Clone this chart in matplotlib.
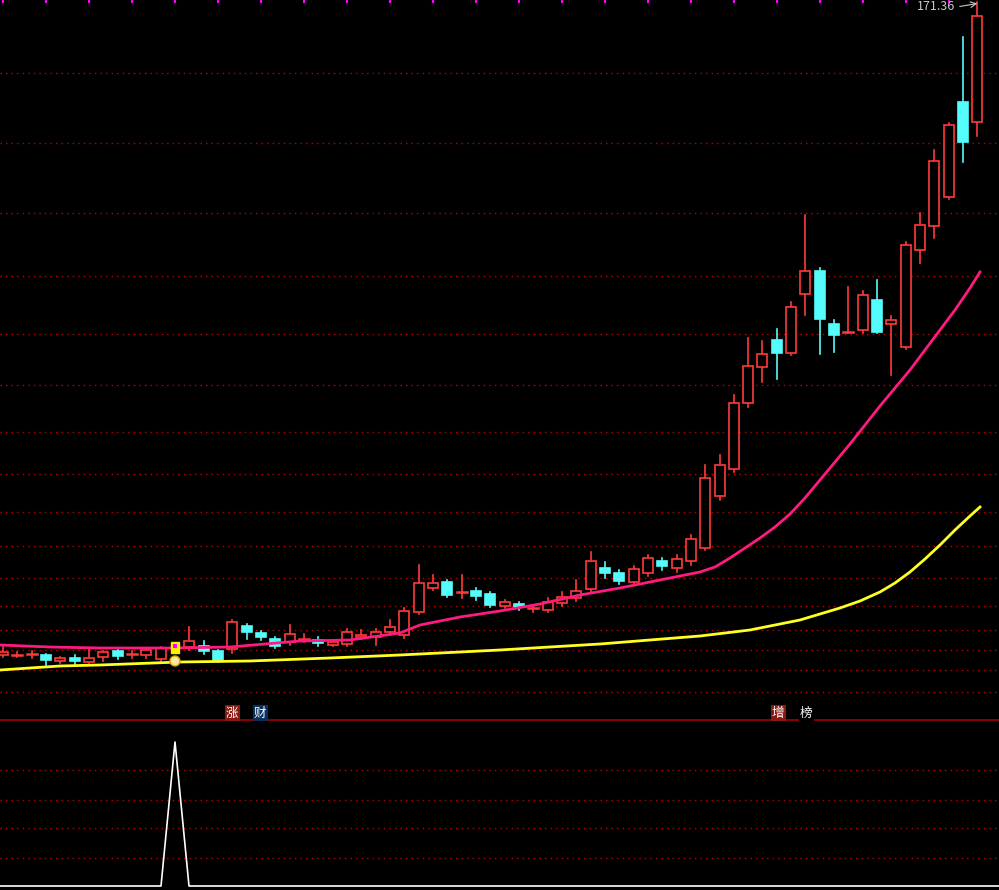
import matplotlib
matplotlib.use("Agg")
import matplotlib.pyplot as plt
from matplotlib.patches import Rectangle, Circle

plt.rcParams['font.family'] = ['Noto Sans CJK SC', 'DejaVu Sans']

# candle data as chart levels (screen scale, larger = lower price)
opens = [655, 655, 654, 655, 661, 658, 662, 657, 651, 654, 655, 659, 653, 647, 646, 651, 649, 626, 633, 639,
         642, 639, 640, 645, 644, 637, 637, 632, 635, 612, 588, 582, 592, 591, 594, 606, 604, 608, 610, 603,
         598, 589, 568, 573, 582, 573, 561, 568, 561, 548, 496, 469, 403, 367, 340, 353, 294, 271, 324, 332,
         330, 300, 324, 347, 250, 226, 197, 102, 122]
closes = [652, 655, 654, 660, 658, 661, 658, 652, 656, 654, 650, 648, 642, 641, 651, 660, 622, 632, 637, 646,
          634, 639, 643, 642, 632, 635, 632, 627, 611, 583, 583, 595, 592, 596, 605, 602, 607, 608, 602, 597,
          591, 561, 573, 581, 569, 558, 566, 559, 539, 478, 465, 403, 366, 354, 353, 307, 271, 319, 335, 332,
          295, 332, 320, 245, 225, 161, 125, 142, 16]
highs = [647, 652, 651, 654, 657, 655, 648, 651, 649, 651, 648, 647, 642, 627, 641, 650, 620, 624, 631, 637,
         625, 634, 637, 641, 629, 630, 629, 620, 608, 565, 575, 580, 575, 588, 592, 600, 602, 606, 598, 592,
         580, 552, 562, 570, 566, 555, 558, 555, 535, 465, 455, 395, 338, 341, 329, 302, 215, 268, 320, 287,
         291, 280, 316, 242, 213, 150, 123, 37, 2]
lows = [657, 657, 658, 665, 663, 665, 663, 661, 659, 658, 658, 662, 655, 650, 654, 662, 653, 639, 640, 648,
        645, 642, 646, 646, 646, 639, 645, 635, 638, 614, 590, 597, 598, 600, 607, 608, 610, 612, 612, 606,
        601, 592, 578, 584, 585, 576, 570, 572, 565, 550, 500, 472, 407, 382, 379, 355, 315, 354, 352, 333,
        333, 333, 375, 349, 263, 238, 199, 162, 136]
signal_bar = 12

ma_fast_x = [0, 50, 100, 175, 230, 300, 350, 400, 420, 460, 500, 540, 580, 620, 660, 700, 715, 730, 745, 760,
             775, 790, 805, 820, 835, 850, 865, 880, 895, 910, 925, 940, 955, 970, 980]
ma_fast = [645, 647, 648, 648, 647, 641, 640, 633, 625, 617, 611, 604, 595, 588, 580, 572, 567, 558, 548, 538,
           527, 514, 498, 480, 462, 444, 425, 406, 388, 370, 350, 330, 310, 288, 272]
ma_slow_x = [0, 30, 60, 100, 180, 250, 330, 400, 500, 600, 700, 750, 800, 840, 860, 880, 895, 910, 925, 940,
             955, 970, 980]
ma_slow = [670, 668, 666, 665, 662, 661, 658, 655, 650, 644, 636, 630, 620, 608, 601, 592, 583, 572, 559, 545,
           530, 516, 507]

grid_top = [73, 143, 213, 276, 334, 385, 432, 474, 512, 546, 578, 606, 630, 650, 670, 692]
grid_bottom = [770, 800, 828, 858]

spike_x = [0, 161, 175, 189, 999]
spike_y = [886, 886, 742, 886, 886]

step = 14.33
x0 = 3
width = 10

fig = plt.figure(figsize=(9.99, 8.9), dpi=100, facecolor='black')
ax = fig.add_axes([0, 0, 1, 1])
ax.set_facecolor('black')
ax.set_xlim(0, 999)
ax.set_ylim(890, 0)
ax.axis('off')

for g in grid_top + grid_bottom:
    ax.axhline(g, color='#c00000', lw=1.0, ls=(0, (1, 3)))
ax.axhline(720, color='#a00000', lw=1.2)

red = '#ff3a3a'
cyan = '#54fcfc'
for i in range(len(opens)):
    x = x0 + i * step
    o, c, h, l = opens[i], closes[i], highs[i], lows[i]
    if i == signal_bar:
        ax.add_patch(Rectangle((x - 4, 642), 8, 11, facecolor='#ffee00', edgecolor='#ffee00', zorder=5))
        ax.add_patch(Rectangle((x - 2, 644), 4, 4, facecolor='#ff00ff', zorder=6))
        ax.add_patch(Circle((x, 661), 5, facecolor='#ffe9a0', edgecolor='#d0a000', zorder=6))
        continue
    up = c <= o
    col = red if up else cyan
    top, bot = min(o, c), max(o, c)
    ax.plot([x, x], [h, top], color=col, lw=1.2, zorder=3)
    ax.plot([x, x], [bot, l], color=col, lw=1.2, zorder=3)
    if bot - top < 1.5:
        ax.plot([x - width / 2, x + width / 2], [top, top], color=col, lw=1.8, zorder=3)
    elif up:
        ax.add_patch(Rectangle((x - width / 2, top), width, bot - top, facecolor='black',
                               edgecolor=col, lw=1.2, zorder=3))
    else:
        ax.add_patch(Rectangle((x - width / 2, top), width, bot - top, facecolor=col,
                               edgecolor=col, lw=1.2, zorder=3))

ax.plot(ma_fast_x, ma_fast, color='#ff1a80', lw=2, zorder=4)
ax.plot(ma_slow_x, ma_slow, color='#ffff20', lw=2, zorder=4)

ax.plot(spike_x, spike_y, color='white', lw=1.2)

ax.text(955, 6, '171.36', color='#c8c8c8', fontsize=9, ha='right', va='center')
ax.annotate('', xy=(980, 3), xytext=(957, 7),
            arrowprops=dict(arrowstyle='->', color='#c8c8c8', lw=0.8))

# top markers
for i in range(0, 69, 3):
    ax.plot([x0 + i * step, x0 + i * step], [0, 2], color='#ff00ff', lw=1.5)

labels = [('涨', 232, '#8a1a10'), ('财', 260, '#0a3060'), ('增', 778, '#8a1a10'), ('榜', 806, 'black')]
for t, x, bg in labels:
    ax.text(x, 713, t, color='white', fontsize=9, ha='center', va='center',
            bbox=dict(boxstyle='square,pad=0.1', facecolor=bg, edgecolor='none'))

fig.savefig('out.png', dpi=100, facecolor='black')
